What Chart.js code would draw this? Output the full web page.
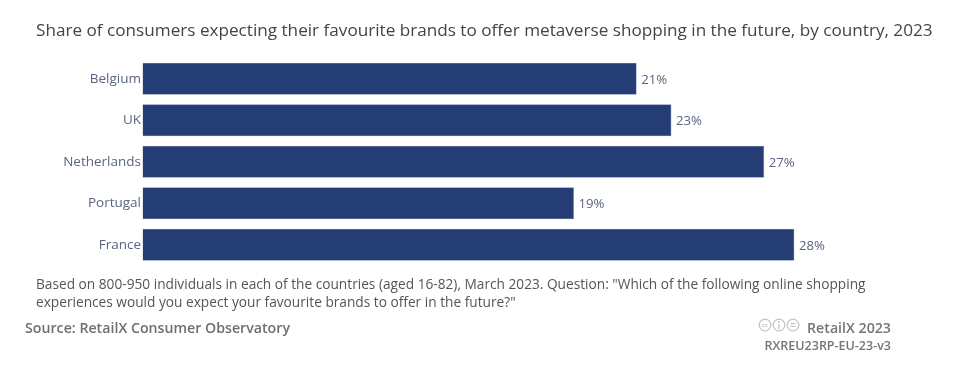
<!DOCTYPE html>
<html lang="en">
<head>
    <meta charset="UTF-8">
    <title>Metaverse shopping expectations by country</title>
    <style>
        html, body {
            margin: 0;
            padding: 0;
            background: #fff;
            overflow: hidden;
        }

        body {
            font-family: "Open Sans", sans-serif;
            width: 954px;
            height: 380px;
            position: relative;
        }

        #chart-box {
            position: absolute;
            left: 0;
            top: 0;
            width: 954px;
            height: 380px;
        }

        .txt {
            position: absolute;
            white-space: nowrap;
        }

        #title { left: 36px; top: 18px; font-size: 17.15px; color: #444; }
        #note { left: 36px; top: 275px; font-size: 13.7px; line-height: 18px; color: #555; }
        #source { left: 25px; top: 318px; font-size: 14.2px; font-weight: 600; color: #6f6f6f; }
        #brand { right: 63px; top: 318px; font-size: 14.2px; font-weight: 600; color: #757575; }
        #code { right: 63px; top: 337px; font-size: 12.5px; font-weight: 600; color: #757575; }
        #cc-icons { position: absolute; left: 758px; top: 318px; }
    </style>
</head>
<body>
<div id="chart-box"><canvas id="share-chart"></canvas></div>
<div class="txt" id="title">Share of consumers expecting their favourite brands to offer metaverse shopping in the future, by country, 2023</div>
<div class="txt" id="note">Based on 800-950 individuals in each of the countries (aged 16-82), March 2023. Question: "Which of the following online shopping<br>experiences would you expect your favourite brands to offer in the future?"</div>
<div class="txt" id="source">Source: RetailX Consumer Observatory</div>
<svg id="cc-icons" width="42" height="14" viewBox="0 0 42 14">
    <g fill="none" stroke="#c4c4c4" stroke-width="1.3">
        <circle cx="7" cy="7" r="5.8"/>
        <circle cx="21" cy="7" r="5.8"/>
        <circle cx="35" cy="7" r="5.8"/>
        <path d="M32.5 5.7h5M32.5 8.3h5"/>
        <path d="M21 6v5"/>
    </g>
    <circle cx="21" cy="3.9" r="1" fill="#c4c4c4"/>
    <text x="7" y="9" font-size="6" font-weight="700" fill="#c4c4c4" text-anchor="middle">cc</text>
</svg>
<div class="txt" id="brand">RetailX 2023</div>
<div class="txt" id="code">RXREU23RP-EU-23-v3</div>

<script src="https://cdn.jsdelivr.net/npm/chart.js"></script>
<script>
    var countries = ["Belgium", "UK", "Netherlands", "Portugal", "France"];
    var shares = [21.3, 22.8, 26.8, 18.6, 28.1];

    // Chart.js has no data labels built in, so write the rounded share after each bar
    var barLabels = {
        id: "barLabels",
        afterDatasetsDraw: function (chart) {
            var ctx = chart.ctx;
            ctx.save();
            ctx.font = "13.2px 'Open Sans'";
            ctx.fillStyle = "#5b6580";
            ctx.textBaseline = "middle";
            chart.getDatasetMeta(0).data.forEach(function (bar, i) {
                ctx.fillText(Math.round(shares[i]) + "%", bar.x + 4.5, bar.y + 1);
            });
            ctx.restore();
        }
    };

    new Chart(document.getElementById("share-chart"), {
        type: "bar",
        data: {
            labels: countries,
            datasets: [{
                data: shares,
                backgroundColor: "#243d75",
                borderColor: "#8d9cbc",
                borderWidth: 0.6,
                categoryPercentage: 1,
                barPercentage: 0.775
            }]
        },
        options: {
            indexAxis: "y",
            responsive: true,
            maintainAspectRatio: false,
            animation: false,
            layout: {
                padding: { left: 0, right: 115.5, top: 58, bottom: 114.5 }
            },
            plugins: {
                legend: { display: false },
                tooltip: { enabled: false }
            },
            scales: {
                x: {
                    display: false,
                    min: 0,
                    max: 30
                },
                y: {
                    afterFit: function (scale) {
                        scale.width = 142.5;
                    },
                    grid: { display: false, tickLength: 0 },
                    border: { display: false },
                    ticks: {
                        color: "#5b6580",
                        padding: 1.5,
                        font: { family: "'Open Sans'", size: 13.5 }
                    }
                }
            }
        },
        plugins: [barLabels]
    });
</script>
</body>
</html>
